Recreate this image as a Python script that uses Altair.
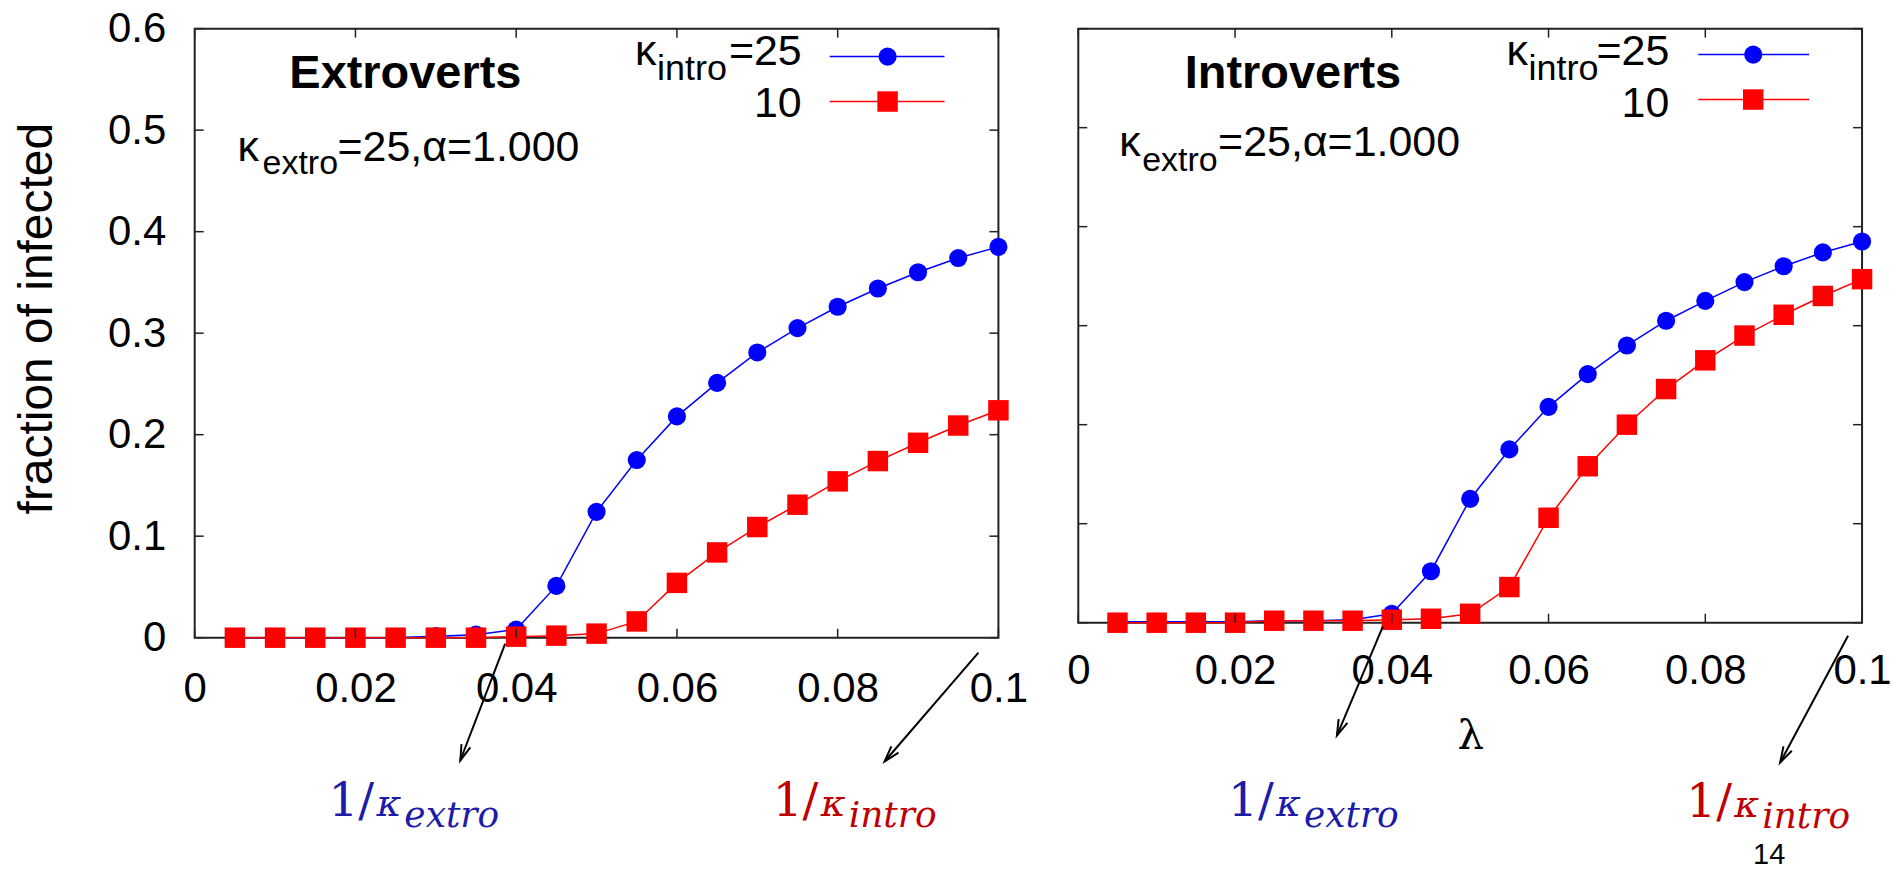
import math
import altair as alt
import pandas as pd

# ---------------- data ----------------
lam = [0.005, 0.010, 0.015, 0.020, 0.025, 0.030, 0.035, 0.040, 0.045, 0.050,
       0.055, 0.060, 0.065, 0.070, 0.075, 0.080, 0.085, 0.090, 0.095, 0.100]

# Extroverts panel
ext_k25 = [0.000, 0.000, 0.000, 0.000, 0.000, 0.0015, 0.003, 0.008, 0.051, 0.124,
           0.175, 0.218, 0.251, 0.281, 0.305, 0.326, 0.344, 0.360, 0.374, 0.385]
ext_k10 = [0.000, 0.000, 0.000, 0.000, 0.000, 0.000, 0.000, 0.001, 0.002, 0.004,
           0.016, 0.054, 0.084, 0.109, 0.131, 0.154, 0.174, 0.192, 0.209, 0.224]

# Introverts panel
int_k25 = [0.001, 0.001, 0.001, 0.001, 0.002, 0.002, 0.003, 0.009, 0.052, 0.125,
           0.175, 0.218, 0.251, 0.280, 0.305, 0.325, 0.344, 0.360, 0.374, 0.385]
int_k10 = [0.000, 0.000, 0.000, 0.000, 0.002, 0.002, 0.002, 0.003, 0.004, 0.009,
           0.036, 0.106, 0.158, 0.200, 0.236, 0.265, 0.290, 0.311, 0.330, 0.347]

series_labels = ["25", "10"]
x_ticks = [0, 0.02, 0.04, 0.06, 0.08, 0.1]
y_ticks = [0, 0.1, 0.2, 0.3, 0.4, 0.5, 0.6]

# ---------------- style ----------------
SANS = "Liberation Sans"
SERIF = "DejaVu Serif"
BLUE = "#0000ff"
RED = "#ff0000"
NAVY = "#1c1ca8"
DARKRED = "#c00000"
FRAME = "#222222"
TICK = 9

one = pd.DataFrame({"o": [0]})


def text_layer(s, x, y, size, color="black", font=SANS, weight="normal",
               style="normal", align="left", baseline="alphabetic"):
    return alt.Chart(one).mark_text(
        text=s, font=font, fontSize=size, fontWeight=weight, fontStyle=style,
        color=color, align=align, baseline=baseline
    ).encode(x=alt.value(x), y=alt.value(y))


def arrow_layers(x0, y0, x1, y1):
    ang = math.degrees(math.atan2(x0 - x1, y1 - y0)) % 360
    shaft = alt.Chart(one).mark_rule(color="black", strokeWidth=2).encode(
        x=alt.value(x0), y=alt.value(y0), x2=alt.value(x1), y2=alt.value(y1))
    head = alt.Chart(one).mark_point(
        shape="M-0.3,-1L0,0L0.3,-1", filled=False, size=1000, strokeWidth=2,
        color="black", opacity=1, angle=ang
    ).encode(x=alt.value(x1), y=alt.value(y1))
    return [shaft, head]


def legend_layers(k_x, sub_x, right_x, base_y, line_x0, line_x1, mark_x, y_blue, y_red):
    out = [
        text_layer("κ", k_x, base_y, 43),
        text_layer("intro", sub_x, base_y + 15, 36),
        text_layer("=" + series_labels[0], right_x, base_y, 43, align="right"),
        text_layer(series_labels[1], right_x, base_y + 52, 43, align="right"),
    ]
    for col, yy, shp, sz in [(BLUE, y_blue, "circle", 330), (RED, y_red, "square", 420)]:
        out.append(alt.Chart(one).mark_rule(color=col, strokeWidth=1.5).encode(
            x=alt.value(line_x0), x2=alt.value(line_x1), y=alt.value(yy)))
        out.append(alt.Chart(one).mark_point(
            shape=shp, filled=True, size=sz, color=col, opacity=1
        ).encode(x=alt.value(mark_x), y=alt.value(yy)))
    return out


def math_label(x, y, sub, color):
    return [
        text_layer("1/", x, y, 47, color=color, font=SERIF),
        text_layer("κ", x + 48, y, 38, color=color, font=SERIF, style="italic"),
        text_layer(sub, x + 76, y + 11, 36, color=color, font=SERIF, style="italic"),
    ]


def panel(k25, k10, W, H, yaxis, xaxis, extra):
    df = pd.DataFrame({
        "lam": lam + lam,
        "frac": k25 + k10,
        "series": [series_labels[0]] * len(lam) + [series_labels[1]] * len(lam),
    })
    xs = alt.Scale(domain=[0, 0.1], nice=False, zero=False)
    ys = alt.Scale(domain=[0, 0.6], nice=False)
    X = alt.X("lam:Q", scale=xs, axis=xaxis)
    Y = alt.Y("frac:Q", scale=ys, axis=yaxis)

    base = alt.Chart(df)
    b = base.transform_filter(alt.datum.series == series_labels[0])
    r = base.transform_filter(alt.datum.series == series_labels[1])
    layers = [
        b.mark_line(color=BLUE, strokeWidth=1.5).encode(X, Y),
        b.mark_point(shape="circle", filled=True, size=330, color=BLUE, opacity=1).encode(X, Y),
        r.mark_line(color=RED, strokeWidth=1.5).encode(X, Y),
        r.mark_point(shape="square", filled=True, size=420, color=RED, opacity=1).encode(X, Y),
    ]

    xt = alt.Chart(pd.DataFrame({"lam": x_ticks}))
    yt = alt.Chart(pd.DataFrame({"frac": y_ticks}))
    layers += [
        xt.mark_rule(color=FRAME, strokeWidth=1.5).encode(X, y=alt.value(H), y2=alt.value(H - TICK)),
        xt.mark_rule(color=FRAME, strokeWidth=1.5).encode(X, y=alt.value(0), y2=alt.value(TICK)),
        yt.mark_rule(color=FRAME, strokeWidth=1.5).encode(Y, x=alt.value(0), x2=alt.value(TICK)),
        yt.mark_rule(color=FRAME, strokeWidth=1.5).encode(Y, x=alt.value(W), x2=alt.value(W - TICK)),
    ]
    layers += extra
    return alt.layer(*layers).properties(width=W, height=H)


common_axis = dict(ticks=False, domain=False, grid=False, labelFont=SANS,
                   labelFontSize=42, labelColor="black", format="~g",
                   labelOverlap=False)

left_y = alt.Axis(values=y_ticks, labelPadding=29, title="fraction of infected",
                  titleFont=SANS, titleFontSize=48, titleFontWeight="normal",
                  titleColor="black", titleAngle=270, titleBaseline="middle",
                  titleAlign="center", titleX=-157, titleY=290, **common_axis)
left_x = alt.Axis(values=x_ticks, labelPadding=31, labelFlush=False, title="",
                  **common_axis)
right_x = alt.Axis(values=x_ticks, labelPadding=28, labelFlush=False, title="λ",
                   titleFont=SERIF, titleFontSize=42, titleFontWeight="normal",
                   titleColor="black", titleBaseline="middle", titleY=113,
                   **common_axis)

# ---------------- annotations ----------------
left_extra = [
    text_layer("Extroverts", 211, 59, 47, weight="bold", align="center"),
    text_layer("κ", 43, 133, 43),
    text_layer("extro", 68, 146, 34),
    text_layer("=25,α=1.000", 143, 133, 43),
]
left_extra += legend_layers(441, 463, 608, 36, 636, 751, 694, 28, 73)
left_extra += arrow_layers(311, 616, 266, 733)
left_extra += arrow_layers(785, 625, 691, 734)
left_extra += math_label(134, 789, "extro", NAVY)
left_extra += math_label(579, 789, "intro", DARKRED)

right_extra = [
    text_layer("Introverts", 215, 59, 47, weight="bold", align="center"),
    text_layer("κ", 41, 128, 43),
    text_layer("extro", 64, 143, 34),
    text_layer("=25,α=1.000", 140, 128, 43),
]
right_extra += legend_layers(429, 451, 592, 36, 621, 732, 676, 26, 71)
right_extra += arrow_layers(305, 599, 259, 708)
right_extra += arrow_layers(771, 608, 703, 735)
right_extra += math_label(150, 789, "extro", NAVY)
right_extra += math_label(609, 790, "intro", DARKRED)
right_extra.append(text_layer("14", 692, 828, 29, align="center", baseline="middle"))

left = panel(ext_k25, ext_k10, 805, 610, left_y, left_x, left_extra)
right = panel(int_k25, int_k10, 785, 595, None, right_x, right_extra)

chart = alt.hconcat(left, right, spacing=80, bounds="flush").properties(
    padding={"left": 13, "top": 6, "right": 0, "bottom": 0},
    background="white",
).configure_view(stroke=FRAME, strokeWidth=2)

chart.save("out.html", embed_options={"renderer": "svg", "actions": False})
